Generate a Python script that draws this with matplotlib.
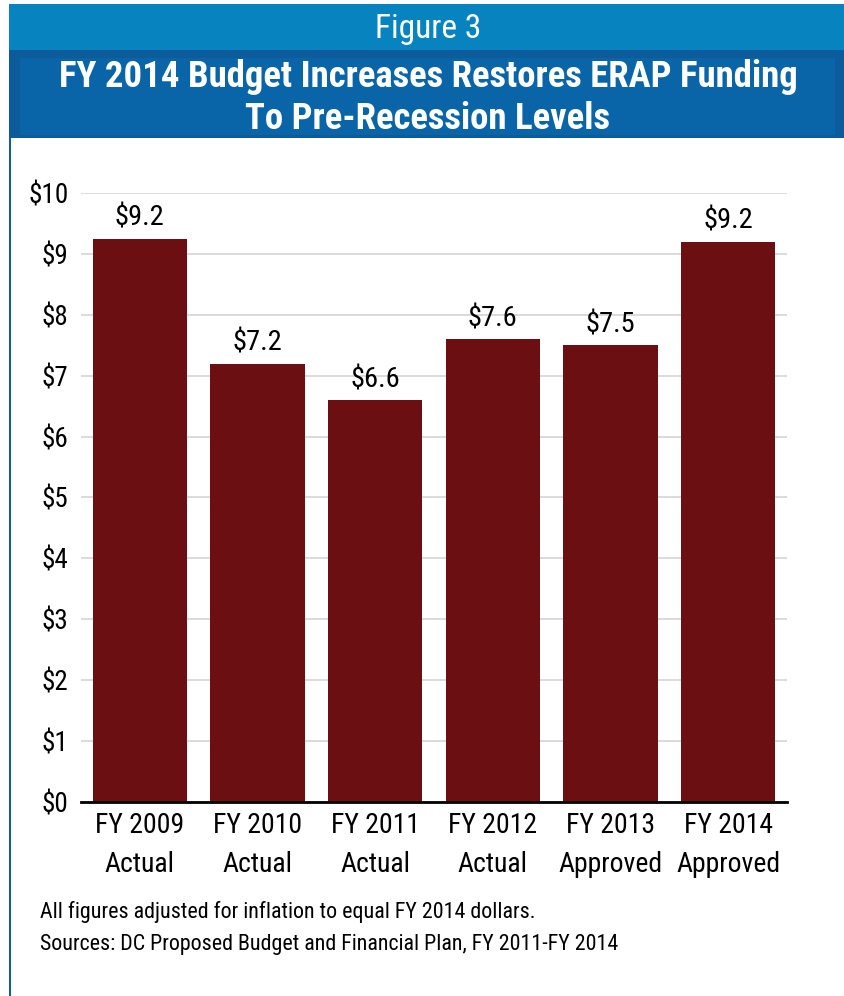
import matplotlib
matplotlib.use("Agg")
import matplotlib.pyplot as plt
from matplotlib.patches import Rectangle

plt.rcParams['font.family'] = ['Roboto Condensed', 'Arial Narrow', 'Roboto', 'DejaVu Sans']

# data
categories = ["FY 2009\nActual", "FY 2010\nActual", "FY 2011\nActual",
              "FY 2012\nActual", "FY 2013\nApproved", "FY 2014\nApproved"]
values = [9.25, 7.2, 6.6, 7.6, 7.5, 9.2]
yticks = [0, 1, 2, 3, 4, 5, 6, 7, 8, 9, 10]
title_top = "Figure 3"
title_main = "FY 2014 Budget Increases Restores ERAP Funding\nTo Pre-Recession Levels"
notes = ["All figures adjusted for inflation to equal FY 2014 dollars.",
         "Sources: DC Proposed Budget and Financial Plan, FY 2011-FY 2014"]

W, H = 845, 996
fig = plt.figure(figsize=(W / 100, H / 100), dpi=100)

def px(x0, y0, x1, y1):
    # pixel box (top-left origin) -> figure coords
    return (x0 / W, 1 - y1 / H), (x1 - x0) / W, (y1 - y0) / H

def box(x0, y0, x1, y1, c):
    xy, w, h = px(x0, y0, x1, y1)
    fig.patches.append(Rectangle(xy, w, h, transform=fig.transFigure, color=c,
                                 linewidth=0, zorder=0))

# header bands + left border
box(9, 4, W, 50, "#0783bf")
box(9, 50, W, 138, "#0c5c9c")
box(20, 58, 835, 135, "#0a65a8")
box(9, 138, 11, H, "#0b5fa5")

fig.text(428 / W, 1 - 29 / H, title_top, color="white", fontsize=24,
         ha="center", va="center")
fig.text(428 / W, 1 - 98 / H, title_main, color="white", fontsize=26.5,
         fontweight="bold", ha="center", va="center", linespacing=1.2)

ax = fig.add_axes([81 / W, 194 / H, 706 / W, 609 / H])
x = range(len(values))
bars = ax.bar(x, values, width=0.8, color="#6b0f12", zorder=2)
for b, v in zip(bars, values):
    ax.annotate(f"${v:.1f}", (b.get_x() + b.get_width() / 2, v),
                xytext=(0, 5), textcoords="offset points",
                ha="center", va="bottom", fontsize=20.5)

ax.set_xlim(-0.5, len(values) - 0.5)
ax.set_ylim(0, 10)
ax.set_yticks(yticks)
ax.set_yticklabels([f"${t}" for t in yticks], fontsize=19.5)
ax.set_xticks(list(x))
ax.set_xticklabels(categories, fontsize=20, linespacing=1.6)
ax.tick_params(axis="both", length=0)
ax.tick_params(axis="y", pad=9)
ax.tick_params(axis="x", pad=7)
ax.grid(axis="y", color="#d4d4d4", linewidth=1.2, zorder=0)
for s in ["left", "right", "top"]:
    ax.spines[s].set_visible(False)
ax.spines["bottom"].set_linewidth(2)
ax.spines["bottom"].set_zorder(3)

fig.text(40 / W, 1 - 918 / H, notes[0], fontsize=15.8, ha="left", va="baseline")
fig.text(40 / W, 1 - 950 / H, notes[1], fontsize=15.8, ha="left", va="baseline")

fig.savefig("out.png", dpi=100)
